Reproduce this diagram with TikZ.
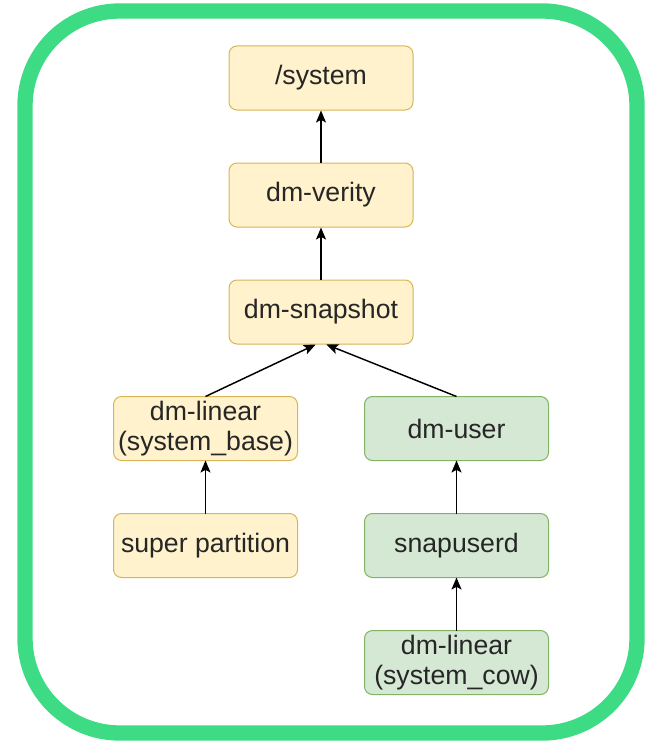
\documentclass[tikz,border=0pt]{standalone}
\usepackage{fontspec}
\setmainfont{Liberation Sans}
\usetikzlibrary{arrows.meta,positioning,matrix}

\definecolor{yfill}{HTML}{FFF2CC}
\definecolor{ydraw}{HTML}{D6B656}
\definecolor{gfill}{HTML}{D5E8D4}
\definecolor{gdraw}{HTML}{82B366}
\definecolor{droid}{HTML}{3DDC84}

\begin{document}
\begin{tikzpicture}[x=0.75pt,y=-0.75pt
  ,->,>={Stealth[length=9pt,width=7.5pt,inset=2pt]}
  ,node distance=39pt
  ,line width=1.1pt]
  \tikzset{blk/.style={rectangle,rounded corners=6pt,line width=0.75pt
      ,minimum width=138pt,minimum height=48pt,inner sep=0pt,align=center
      ,text=black!85,font=\fontsize{20}{23}\selectfont},
    ybox/.style={blk,draw=ydraw,fill=yfill},
    gbox/.style={blk,draw=gdraw,fill=gfill}}

  \useasboundingbox (0,0) rectangle (644,742);
  % android green frame
  \draw[-,droid,line width=11.5pt,rounded corners=71pt] (25,11) rectangle (637,733);

  % top stack
  \node[ybox](snap) at (321,312) {dm-snapshot};
  \node[ybox,above=of snap](verity) {dm-verity};
  \node[ybox,above=of verity](sys) {/system};

  \matrix (m) [anchor=north west
  ,inner sep=0pt,outer sep=0pt
  ,row sep=39pt,column sep=49.5pt] at (113,396)
  {
    % base side & cow side
    \node[ybox](linbase) {dm-linear\\(system\_base)}; &
    \node[gbox](user) {dm-user}; \\
    \node[ybox](super) {super partition}; &
    \node[gbox](snapuserd) {snapuserd}; \\
    &
    \node[gbox](lincow) {dm-linear\\(system\_cow)}; \\
  };

  \path
  (verity) edge (sys)
  (snap) edge (verity)
  (linbase.north) edge ([xshift=-4pt]snap.south)
  (user.north) edge ([xshift=4pt]snap.south)
  (super) edge (linbase)
  (snapuserd) edge (user)
  (lincow) edge (snapuserd);

\end{tikzpicture}
\end{document}
